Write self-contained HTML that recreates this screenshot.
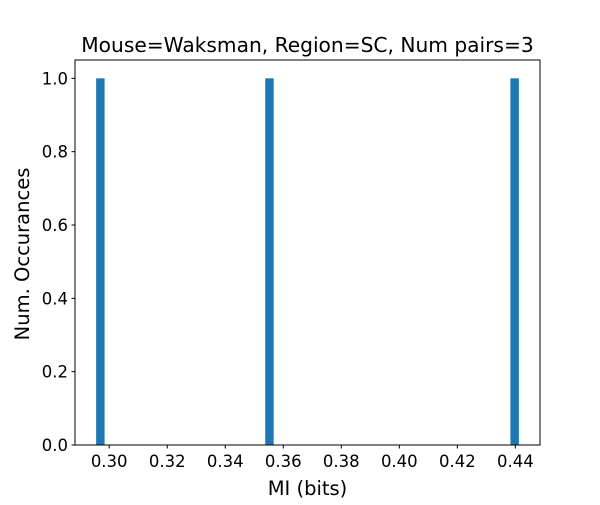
<!DOCTYPE html>
<html><head><meta charset="utf-8"><style>
body{margin:0;background:#fff;}
text{font-family:"DejaVu Sans","Liberation Sans",sans-serif;fill:#000;}
</style></head><body>
<svg id="chart" width="600" height="500" xmlns="http://www.w3.org/2000/svg">
<text x="307.5" y="52" font-size="20.2" text-anchor="middle">Mouse=Waksman, Region=SC, Num pairs=3</text>
<g id="bars"></g>
<g id="xticks"></g>
<g id="yticks"></g>
<rect x="75" y="60" width="465" height="385" fill="none" stroke="#000" stroke-width="1"/>
<text x="307.5" y="495" font-size="19.5" text-anchor="middle">MI (bits)</text>
<text transform="translate(29,254) rotate(-90)" font-size="19.5" text-anchor="middle">Num. Occurances</text>
</svg>
<script>
const miValues=[0.2955,0.3555,0.4412];
const xTickLabels=["0.30","0.32","0.34","0.36","0.38","0.40","0.42","0.44"];
const xTickValues=[0.30,0.32,0.34,0.36,0.38,0.40,0.42,0.44];
const yTickLabels=["0.0","0.2","0.4","0.6","0.8","1.0"];
const yTickValues=[0,0.2,0.4,0.6,0.8,1.0];
const nBins=50;
const NS="http://www.w3.org/2000/svg";
const L=75,R=540,T=60,B=445;
const mn=Math.min(...miValues),mx=Math.max(...miValues);
const bw=(mx-mn)/nBins;
const counts=new Array(nBins).fill(0);
miValues.forEach(v=>{let i=Math.floor((v-mn)/bw);if(i>=nBins)i=nBins-1;counts[i]++;});
const ymax=Math.max(...counts)*1.05;
const pad=(mx-mn)*0.05;
const x0=mn-pad,x1=mx+pad;
const xs=v=>L+(v-x0)/(x1-x0)*(R-L);
const ys=v=>B-v/ymax*(B-T);
const bars=document.getElementById('bars');
counts.forEach((c,i)=>{if(!c)return;
const r=document.createElementNS(NS,'rect');
const a=xs(mn+i*bw),b=xs(mn+(i+1)*bw);
r.setAttribute('x',a);r.setAttribute('width',b-a);
r.setAttribute('y',ys(c));r.setAttribute('height',B-ys(c));
r.setAttribute('fill','#1f77b4');


bars.appendChild(r);});
const xg=document.getElementById('xticks');
xTickValues.forEach((v,i)=>{const x=xs(v);
const l=document.createElementNS(NS,'line');
l.setAttribute('x1',x);l.setAttribute('x2',x);l.setAttribute('y1',B);l.setAttribute('y2',B+3.5);l.setAttribute('stroke','#000');


xg.appendChild(l);
const t=document.createElementNS(NS,'text');
t.setAttribute('x',x);t.setAttribute('y',B+22);t.setAttribute('font-size','16.5');t.setAttribute('text-anchor','middle');
t.textContent=xTickLabels[i];


xg.appendChild(t);});
const yg=document.getElementById('yticks');
yTickValues.forEach((v,i)=>{const y=ys(v);
const l=document.createElementNS(NS,'line');
l.setAttribute('x1',L-3.5);l.setAttribute('x2',L);l.setAttribute('y1',y);l.setAttribute('y2',y);l.setAttribute('stroke','#000');


yg.appendChild(l);
const t=document.createElementNS(NS,'text');
t.setAttribute('x',L-7);t.setAttribute('y',y+6);t.setAttribute('font-size','16.5');t.setAttribute('text-anchor','end');
t.textContent=yTickLabels[i];


yg.appendChild(t);});
</script>
</body></html>
